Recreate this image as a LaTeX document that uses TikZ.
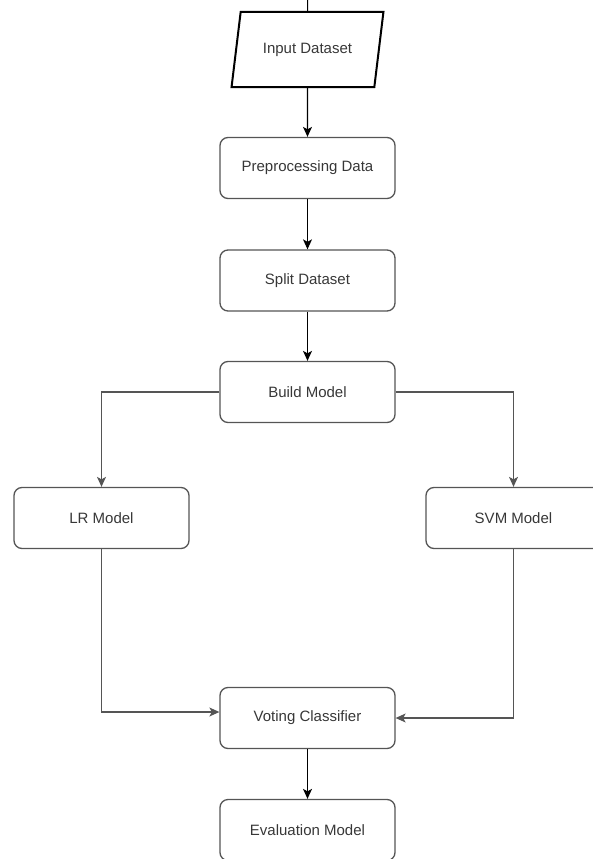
\documentclass[tikz,border=0pt]{standalone}
\usepackage{fontspec}
\setmainfont{Liberation Sans}
\usetikzlibrary{arrows.meta,shapes.geometric}
\definecolor{boxgray}{RGB}{85,85,85}
\definecolor{textgray}{RGB}{55,55,55}
\tikzset{
    %Define standard arrow tip
    >={Stealth[length=10pt,width=9pt,inset=2.5pt]},
    box/.style={draw=boxgray, line width=1.3pt, rounded corners=8pt,
        minimum width=175pt, minimum height=61pt, text=textgray,
        font=\fontsize{15}{18}\selectfont},
    flow/.style={line width=1.1pt, ->}
}

\begin{document}
\begin{tikzpicture}[x=1pt,y=-1pt]
    \useasboundingbox (0,0) rectangle (592,859);

    \node (1) [draw, line width=2pt, trapezium, trapezium left angle=72,
        trapezium right angle=108, trapezium stretches, minimum width=152pt,
        minimum height=75pt, text=textgray, font=\fontsize{15}{18}\selectfont]
        at (307.5,49.5) {Input Dataset};
    \node (2) [box] at (307.5,168) {Preprocessing Data};
    \node (3) [box] at (307.5,280.5) {Split Dataset};
    \node (4) [box] at (307.5,392) {Build Model};
    \node (5) [box] at (101.5,518) {LR Model};
    \node (6) [box] at (307.5,718) {Voting Classifier};
    \node (7) [box] at (513.5,518) {SVM Model};
    \node (8) [box] at (307.5,830) {Evaluation Model};
    \coordinate (0) at (307.5,0);

    \draw [line width=1pt] (0) -- (1.north);
    \draw [flow] (1) -- (2);
    \draw [flow] (2) -- (3);
    \draw [flow] (3) -- (4);
    \draw [flow, draw=boxgray] (4.west) -| (5.north);
    \draw [flow, draw=boxgray] (4.east) -| (7.north);
    \draw [flow, draw=boxgray] (5.south) |- ([yshift=6pt]6.west);
    \draw [flow, draw=boxgray] (7.south) |- (6.east);
    \draw [flow] (6) -- (8);
\end{tikzpicture}
\end{document}
